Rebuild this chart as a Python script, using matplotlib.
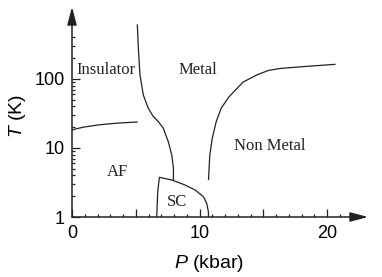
import numpy as np
import matplotlib
matplotlib.use('Agg')
import matplotlib.pyplot as plt
from matplotlib.ticker import FixedLocator, NullFormatter

plt.rcParams['font.family'] = ['Liberation Sans', 'DejaVu Sans']
plt.rcParams['mathtext.fontset'] = 'custom'
plt.rcParams['mathtext.it'] = 'Liberation Sans:italic'
plt.rcParams['mathtext.rm'] = 'Liberation Sans'

# insulator / AF boundary
ins_af_P = [0, 0.5, 1, 2, 3, 4, 5.1]
ins_af_T = [18.3, 19.3, 20.2, 21.5, 22.5, 23.2, 23.8]

# insulator / metal boundary
ins_met_P = [5.12, 5.2, 5.33, 5.59, 5.98, 6.38, 6.77, 7.16, 7.55, 7.82, 7.95, 7.95]
ins_met_T = [606, 278, 114, 58.6, 37.6, 28.4, 24.1, 19.3, 12.3, 7.9, 5.1, 3.44]

# superconducting dome
sc_P = [6.64, 6.72, 6.85, 7.82, 8.86, 9.65, 10.3, 10.56, 10.69, 10.7]
sc_T = [1.0, 2.33, 3.76, 3.44, 2.91, 2.46, 1.97, 1.58, 1.19, 1.0]

# metal / non metal boundary
met_nm_P = [10.7, 10.8, 11.0, 11.3, 11.7, 12.3, 13.4, 14.5, 15.4, 16.3, 18.5, 20.6]
met_nm_T = [3.5, 7.9, 14, 24, 38, 55, 90, 115, 133, 142, 153, 163]

region_names = ['Insulator', 'Metal', 'AF', 'SC', 'Non Metal']
region_P = [2.63, 9.86, 3.53, 8.2, 15.5]
region_T = [135, 135, 4.5, 1.63, 10.7]

fig = plt.figure(figsize=(3.82, 2.77), dpi=100)
ax = fig.add_axes([72/382, 60/277, 296/382, 210/277])
ax.set_yscale('log')
ax.set_xlim(0, 23.2)
ax.set_ylim(1, 1105)

lc = '#222222'
for P, T in [(ins_af_P, ins_af_T), (ins_met_P, ins_met_T), (sc_P, sc_T), (met_nm_P, met_nm_T)]:
    ax.plot(P, T, color=lc, lw=0.9)

for name, P, T in zip(region_names, region_P, region_T):
    ax.text(P, T, name, family='Liberation Serif', fontsize=12, ha='center', va='center', color='#222222')

# axes drawn as arrows
for s in ax.spines.values():
    s.set_visible(False)
arrow = dict(arrowstyle='-|>,head_length=0.6,head_width=0.16', color=lc, lw=1.1,
             shrinkA=0, shrinkB=0, mutation_scale=18)
ax.annotate('', xy=(1, 0), xytext=(0, 0), xycoords='axes fraction', arrowprops=arrow)
ax.annotate('', xy=(0, 1), xytext=(0, 0), xycoords='axes fraction', arrowprops=arrow)

ax.xaxis.set_major_locator(FixedLocator([0, 5, 10, 15, 20]))
ax.set_xticklabels(['0', '', '10', '', '20'])
ax.xaxis.set_minor_locator(FixedLocator(np.arange(0, 22)))
ax.yaxis.set_major_locator(FixedLocator([1, 10, 100]))
ax.set_yticklabels(['1', '10', '100'])
yminor = [2, 3, 4, 5, 6, 7, 8, 9, 20, 30, 40, 50, 60, 70, 80, 90, 200, 300, 400]
ax.yaxis.set_minor_locator(FixedLocator(yminor))
ax.yaxis.set_minor_formatter(NullFormatter())

ax.tick_params(which='both', direction='in', color=lc, width=0.9, top=False, right=False)
ax.tick_params(which='major', length=5.5, labelsize=13, pad=6)
ax.tick_params(which='minor', length=2.5)
ax.tick_params(axis='y', which='major', pad=5)

ax.set_xlabel(r'$P$ (kbar)', fontsize=14)
ax.set_ylabel(r'$T$ (K)', fontsize=14)
ax.xaxis.set_label_coords(0.463, -0.17)
ax.yaxis.set_label_coords(-0.15, 0.48)

fig.savefig('out.png', dpi=100)
